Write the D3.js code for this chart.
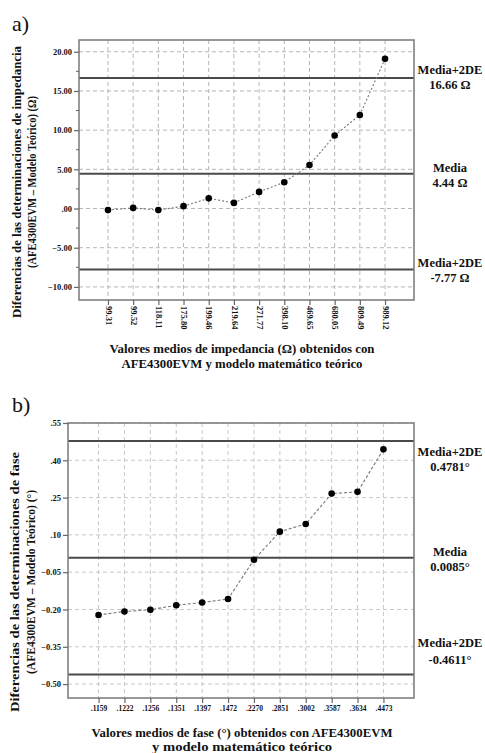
<!DOCTYPE html>
<html>
<head>
<meta charset="utf-8">
<script src="https://cdn.jsdelivr.net/npm/d3@7"></script>
<style>
  html, body { margin: 0; padding: 0; background: #fff; }
  svg { display: block; }
  text { font-family: "Liberation Serif", "Times New Roman", "DejaVu Serif", serif; fill: #111; }
</style>
</head>
<body>
<svg id="chart" width="485" height="753"></svg>
<script>
// ---------- DATA ----------
// Chart a) impedance
const catsA = ["99.31","99.52","118.11","175.80","199.46","219.64","271.77","398.10","469.65","680.05","809.49","989.12"];
const valsA = [-0.2, 0.08, -0.2, 0.3, 1.3, 0.72, 2.12, 3.35, 5.55, 9.31, 11.94, 19.1];
const ticksA = [20, 15, 10, 5, 0, -5, -10];
const minorTicksA = [17.5, 12.5, 7.5, 2.5, -2.5, -7.5];
const refsA = [16.66, 4.44, -7.77];
const refLabelsA = [["Media+2DE", "16.66 Ω"], ["Media", "4.44 Ω"], ["Media+2DE", "-7.77 Ω"]];
const domainA = [-11.67, 21.5];

// Chart b) phase
const catsB = [".1159",".1222",".1256",".1351",".1397",".1472",".2270",".2851",".3002",".3587",".3634",".4473"];
const valsB = [-0.222, -0.208, -0.201, -0.183, -0.172, -0.158, 0.0, 0.113, 0.144, 0.266, 0.273, 0.444];
const ticksB = [0.55, 0.40, 0.25, 0.10, -0.05, -0.20, -0.35, -0.50];
const refsB = [0.4781, 0.0085, -0.4611];
const refLabelsB = [["Media+2DE", "0.4781°"], ["Media", "0.0085°"], ["Media+2DE", "-0.4611°"]];
const domainB = [-0.556, 0.55];

// ---------- LAYOUT ----------
const svg = d3.select("#chart");
const fmtA = v => v === 0 ? ".00" : d3.format(".2f")(v);
const fmtB = v => d3.format(".2f")(v).replace(/^(-?)0\./, "$1.");

function drawChart(cfg) {
  const g = svg.append("g");
  const x = d3.scalePoint().domain(cfg.cats).range([cfg.left, cfg.right]).padding(cfg.pad);
  const y = d3.scaleLinear().domain(cfg.domain).range([cfg.bottom, cfg.top]);

  // panel letter
  g.append("text").attr("x", 12).attr("y", cfg.letterY)
    .style("font-size", "22px").text(cfg.letter);

  // grid
  g.append("g").selectAll("line").data(cfg.ticks).join("line")
    .attr("x1", cfg.left).attr("x2", cfg.right)
    .attr("y1", d => y(d)).attr("y2", d => y(d))
    .attr("stroke", cfg.gridColor).attr("stroke-width", 1).attr("stroke-dasharray", "4,3");
  g.append("g").selectAll("line").data(cfg.cats).join("line")
    .attr("x1", d => x(d)).attr("x2", d => x(d))
    .attr("y1", cfg.top).attr("y2", cfg.bottom)
    .attr("stroke", cfg.gridColor).attr("stroke-width", 1).attr("stroke-dasharray", "4,3");

  // reference lines
  g.append("g").selectAll("line").data(cfg.refs).join("line")
    .attr("x1", cfg.left).attr("x2", cfg.right)
    .attr("y1", d => y(d)).attr("y2", d => y(d))
    .attr("stroke", "#4a4a4a").attr("stroke-width", 2);

  // data line + points
  const line = d3.line().x((d, i) => x(cfg.cats[i])).y(d => y(d));
  g.append("path").datum(cfg.vals).attr("d", line)
    .attr("fill", "none").attr("stroke", "#777").attr("stroke-width", 1.1)
    .attr("stroke-dasharray", cfg.lineDash);
  g.append("g").selectAll("circle").data(cfg.vals).join("circle")
    .attr("cx", (d, i) => x(cfg.cats[i])).attr("cy", d => y(d))
    .attr("r", 3.3).attr("fill", "#000");

  // frame
  g.append("rect").attr("x", cfg.left).attr("y", cfg.top)
    .attr("width", cfg.right - cfg.left).attr("height", cfg.bottom - cfg.top)
    .attr("fill", "none").attr("stroke", "#808080").attr("stroke-width", 1.6);

  // y axis
  const yAxis = d3.axisLeft(y).tickValues(cfg.ticks).tickFormat(cfg.fmt).tickSize(5).tickPadding(2);
  const ya = g.append("g").attr("transform", `translate(${cfg.left},0)`).call(yAxis);
  ya.select(".domain").remove();
  ya.selectAll(".tick line").attr("stroke", "#666").attr("stroke-width", 1.2);
  ya.selectAll(".tick text").style("font-size", "8.5px").style("font-weight", "bold")
    .style("font-family", '"Liberation Serif", serif').attr("fill", "#222");
  if (cfg.minor) {
    g.append("g").selectAll("line").data(cfg.minor).join("line")
      .attr("x1", cfg.left - 3).attr("x2", cfg.left)
      .attr("y1", d => y(d)).attr("y2", d => y(d))
      .attr("stroke", "#666").attr("stroke-width", 1);
  }

  // x axis
  const xAxis = d3.axisBottom(x).tickSize(5).tickPadding(3);
  const xa = g.append("g").attr("transform", `translate(0,${cfg.bottom})`).call(xAxis);
  xa.select(".domain").remove();
  xa.selectAll(".tick line").attr("stroke", "#666").attr("stroke-width", 1.2);
  const xt = xa.selectAll(".tick text").style("font-size", cfg.xFont).style("font-weight", "bold")
    .style("font-family", '"Liberation Serif", serif').attr("fill", "#222");
  if (cfg.rotate) {
    xt.attr("transform", "rotate(90)").attr("y", 0).attr("x", 6).attr("dy", "0.32em")
      .attr("text-anchor", "start");
  }

  // right labels
  cfg.refLabels.forEach((lab, i) => {
    const ry = y(cfg.refs[i]);
    const off = cfg.labelOffsets[i];
    g.append("text").attr("x", 450).attr("y", ry + off[0]).attr("text-anchor", "middle")
      .style("font-size", "12.5px").style("font-weight", "bold").text(lab[0]);
    g.append("text").attr("x", 450).attr("y", ry + off[1]).attr("text-anchor", "middle")
      .style("font-size", "12.5px").style("font-weight", "bold").text(lab[1]);
  });

  // y title
  cfg.yTitle.forEach((t, i) => {
    g.append("text")
      .attr("transform", `translate(${cfg.yTitleX[i]},${cfg.yTitleCY}) rotate(-90)`)
      .attr("text-anchor", "middle")
      .style("font-size", "12px").style("font-weight", "bold")
      .attr("textLength", cfg.yTitleLen[i]).attr("lengthAdjust", "spacingAndGlyphs")
      .text(t);
  });

  // x title
  cfg.xTitle.forEach((t, i) => {
    g.append("text").attr("x", 242).attr("y", cfg.xTitleY[i]).attr("text-anchor", "middle")
      .style("font-size", "12.5px").style("font-weight", "bold")
      .attr("textLength", cfg.xTitleLen[i]).attr("lengthAdjust", "spacingAndGlyphs")
      .text(t);
  });
}

drawChart({
  letter: "a)", letterY: 31,
  cats: catsA, vals: valsA, ticks: ticksA, minor: minorTicksA, refs: refsA, refLabels: refLabelsA,
  domain: domainA, fmt: fmtA,
  left: 79, right: 414, top: 40, bottom: 300, pad: 1.15,
  gridColor: "#b5b5b5", lineDash: "2,2", xFont: "8.5px", rotate: true,
  labelOffsets: [[-4, 11], [-2, 13], [-2, 13]],
  yTitle: ["Diferencias de las determinaciones de impedancia", "(AFE4300EVM – Modelo Teórico) (Ω)"],
  yTitleX: [21, 36], yTitleCY: 182, yTitleLen: [272, 172],
  xTitle: ["Valores medios de impedancia (Ω) obtenidos con", "AFE4300EVM y modelo matemático teórico"],
  xTitleY: [353, 368], xTitleLen: [265, 241]
});

drawChart({
  letter: "b)", letterY: 412,
  cats: catsB, vals: valsB, ticks: ticksB, minor: null, refs: refsB, refLabels: refLabelsB,
  domain: domainB, fmt: fmtB,
  left: 68, right: 414, top: 423, bottom: 698, pad: 1.18,
  gridColor: "#c8c8c8", lineDash: "3,2", xFont: "7.5px", rotate: false,
  labelOffsets: [[15, 30], [-2, 13], [-27, -10]],
  yTitle: ["Diferencias de las determinaciones de fase", "(AFE4300EVM – Modelo Teórico) (°)"],
  yTitleX: [19, 35], yTitleCY: 582, yTitleLen: [260, 184],
  xTitle: ["Valores medios de fase (°) obtenidos con AFE4300EVM", "y modelo matemático teórico"],
  xTitleY: [737, 751], xTitleLen: [301, 180]
});
</script>
</body>
</html>
